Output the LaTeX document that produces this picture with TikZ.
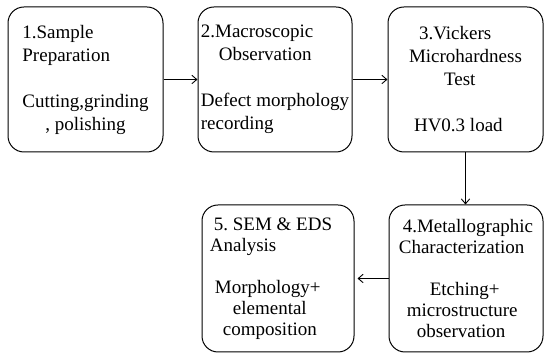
\documentclass[tikz,border=0pt]{standalone}
\usepackage{fontspec}
\setmainfont{Liberation Serif}
\usepackage{tikz}
\usetikzlibrary{arrows.meta}

\begin{document}
\begin{tikzpicture}[
  x=1pt, y=1pt,
  every node/.style={font=\fontsize{19}{23}\selectfont},
  stage/.style={draw, rounded corners=16pt, line width=1pt, inner sep=0pt,
                minimum width=#1, minimum height=145pt, align=left},
  stage/.default=155pt,
  lower/.style={minimum height=147pt, font=\fontsize{19}{21}\selectfont},
  flow/.style={-{Straight Barb[length=5pt, width=8.5pt]}, line width=0.9pt},
]
\useasboundingbox (0,0) rectangle (550,358);

% top row
\node[stage] (prep) at (85.5, 278.5)
  {1.Sample\\Preparation\\[23pt]Cutting,grinding\hspace*{5pt}\\\hspace*{23pt}, polishing};
\node[stage=154pt] (macro) at (275, 278.5)
  {2.Macroscopic\\\hspace*{18pt}Observation\\[23pt]Defect morphology\\recording};
\node[stage] (hard) at (465.5, 278.5)
  {\hspace*{10pt}3.Vickers\\Microhardness\\\hspace*{35pt}Test\\[23pt]\hspace*{5pt}HV0.3 load};

% bottom row
\node[stage=154pt, lower] (metal) at (466, 79.5)
  {\hspace*{4pt}4.Metallographic\\Characterization\\[21pt]\hspace*{31pt}Etching+\\\hspace*{8pt}microstructure\\\hspace*{18pt}observation};
\node[stage=152pt, lower] (sem) at (278, 79.5)
  {\hspace*{4pt}5.\ SEM \& EDS\hspace*{14pt}\\Analysis\\[21pt]\hspace*{5pt}Morphology+\\\hspace*{23pt}elemental\\\hspace*{13pt}composition};

% connectors
\draw[flow] (prep.east) -- (macro.west);
\draw[flow] (macro.east) -- (hard.west);
\draw[flow] (hard.south) -- (hard.south |- metal.north);
\draw[flow, shorten >=3pt] (metal.west) -- (sem.east);
\end{tikzpicture}
\end{document}
